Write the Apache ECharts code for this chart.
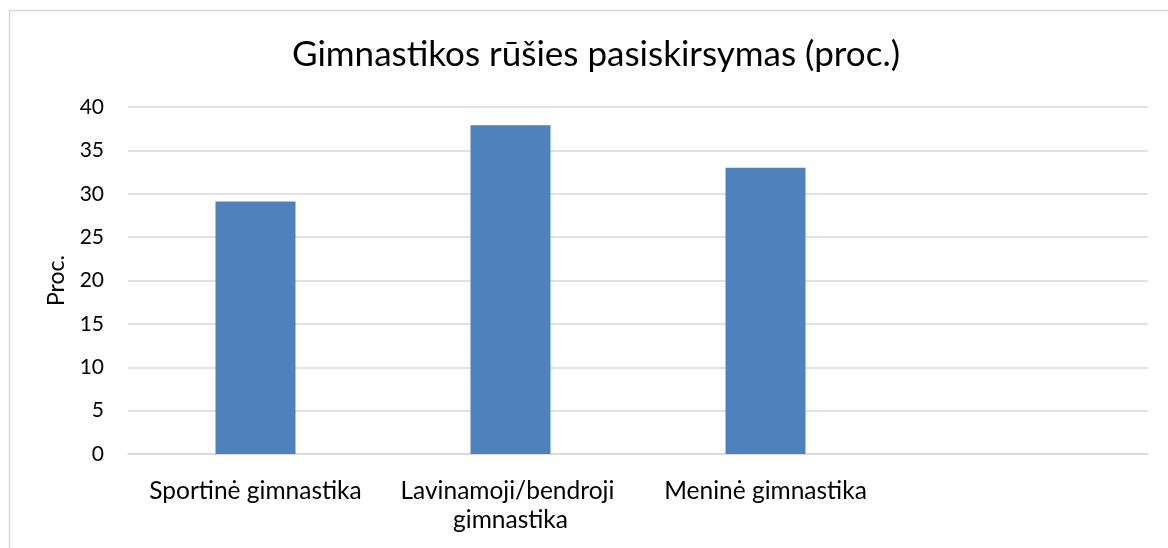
<!DOCTYPE html>
<html>
<head>
<meta charset="utf-8">
<script src="https://cdn.jsdelivr.net/npm/echarts@6/dist/echarts.min.js"></script>
<style>
  html, body { margin: 0; padding: 0; background: #fff; }
  #chart { width: 1168px; height: 548px; }
</style>
</head>
<body>
<div id="chart"></div>
<script>
// duomenys
const categories = ['Sportinė gimnastika', 'Lavinamoji/bendroji gimnastika', 'Meninė gimnastika', '']
const values = [29.1, 37.9, 33.0, null]
const yTicks = [0, 5, 10, 15, 20, 25, 30, 35, 40]

const chart = echarts.init(document.getElementById('chart'))
const font = 'Lato, "Open Sans", sans-serif'

const option = {
  animation: false,
  backgroundColor: '#fff',
  textStyle: { fontFamily: font },
  graphic: [
    {
      type: 'rect',
      left: 7, top: 8,
      shape: { width: 1200, height: 600 },
      style: { fill: 'none', stroke: '#d9d9d9', lineWidth: 1.5 },
      silent: true
    }
  ],
  title: {
    text: 'Gimnastikos rūšies pasiskirsymas (proc.)',
    left: 591,
    textAlign: 'center',
    top: 32,
    textStyle: { fontFamily: font, fontSize: 35, fontWeight: 'normal', color: '#000' }
  },
  grid: { left: 128, right: 20, top: 107, bottom: 94 },
  xAxis: {
    type: 'category',
    data: categories,
    axisLine: { lineStyle: { color: '#d9d9d9', width: 1.5 } },
    axisTick: { show: false },
    axisLabel: {
      interval: 0,
      color: '#000',
      fontFamily: font,
      fontSize: 24.5,
      margin: 23,
      lineHeight: 29,
      width: 250,
      overflow: 'break'
    }
  },
  yAxis: {
    type: 'value',
    min: yTicks[0],
    max: yTicks[yTicks.length - 1],
    interval: 5,
    name: 'Proc.',
    nameLocation: 'middle',
    nameRotate: 90,
    nameGap: 60,
    nameTextStyle: { fontFamily: font, fontSize: 23, color: '#000' },
    axisLine: { show: false },
    axisTick: { show: false },
    axisLabel: { color: '#000', fontFamily: font, fontSize: 21, margin: 24 },
    splitLine: { lineStyle: { color: '#d9d9d9', width: 1.5 } }
  },
  series: [
    {
      type: 'bar',
      data: values,
      barWidth: 80,
      itemStyle: { color: '#4f81bd' }
    }
  ]
}

chart.setOption(option)
</script>
</body>
</html>
